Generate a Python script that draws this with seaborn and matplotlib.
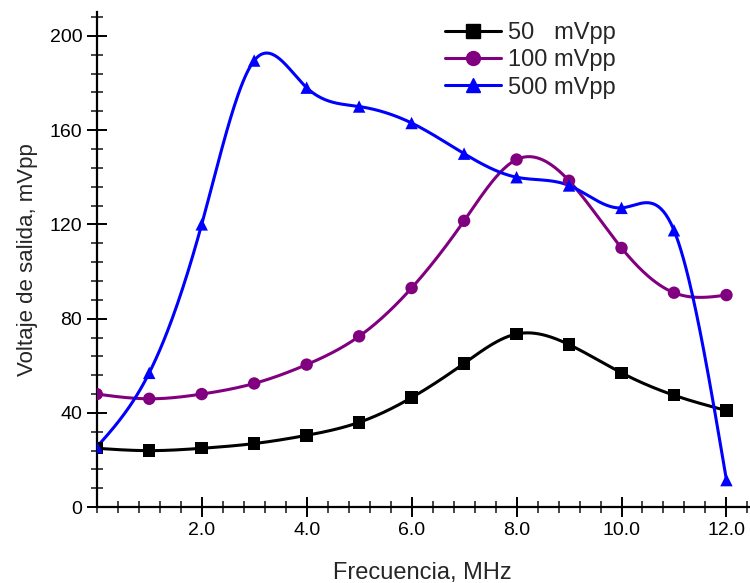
import numpy as np
import pandas as pd
import matplotlib
matplotlib.use("Agg")
import matplotlib.pyplot as plt
import seaborn as sns
from matplotlib.lines import Line2D
from matplotlib.ticker import MultipleLocator, FixedLocator

freq = [0, 1, 2, 3, 4, 5, 6, 7, 8, 9, 10, 11, 12]
v50 = [25, 24, 25, 27, 30.5, 36, 46.5, 61, 73.5, 69, 57, 47.5, 41]
v100 = [48, 46, 48, 52.5, 60.5, 72.5, 93, 121.5, 147.5, 138.5, 110, 91, 90]
v500 = [25.5, 57, 120, 189.5, 178, 170, 163, 150, 140, 136.5, 127, 117.5, 11.5]
series = ["50   mVpp", "100 mVpp", "500 mVpp"]
colors = ["#000000", "#800080", "#0000ff"]
markers = ["s", "o", "^"]


def natural_spline(x, y, n=500):
    # natural cubic spline, like Origin's smooth connect
    x = np.asarray(x, float)
    y = np.asarray(y, float)
    m = len(x)
    h = np.diff(x)
    A = np.zeros((m, m))
    b = np.zeros(m)
    A[0, 0] = A[-1, -1] = 1
    for i in range(1, m - 1):
        A[i, i - 1] = h[i - 1]
        A[i, i] = 2 * (h[i - 1] + h[i])
        A[i, i + 1] = h[i]
        b[i] = 6 * ((y[i + 1] - y[i]) / h[i] - (y[i] - y[i - 1]) / h[i - 1])
    M = np.linalg.solve(A, b)
    xs = np.linspace(x[0], x[-1], n)
    k = np.clip(np.searchsorted(x, xs) - 1, 0, m - 2)
    hk = h[k]
    a = (x[k + 1] - xs) / hk
    c = (xs - x[k]) / hk
    ys = (a * y[k] + c * y[k + 1]
          + ((a ** 3 - a) * M[k] + (c ** 3 - c) * M[k + 1]) * hk ** 2 / 6)
    return xs, ys


pts = pd.DataFrame({
    "freq": freq * 3,
    "v": v50 + v100 + v500,
    "serie": [s for s in series for _ in freq],
})
curves = []
for s, vals in zip(series, [v50, v100, v500]):
    xs, ys = natural_spline(freq, vals)
    curves.append(pd.DataFrame({"freq": xs, "v": ys, "serie": s}))
curves = pd.concat(curves, ignore_index=True)

sns.set_style("ticks")
plt.rcParams["font.family"] = ["Liberation Sans", "DejaVu Sans"]

fig = plt.figure(figsize=(7.5, 5.83), dpi=100)
ax = fig.add_axes([0.129, 0.130, 0.869, 0.849])

pal = dict(zip(series, colors))
sns.lineplot(data=curves, x="freq", y="v", hue="serie", palette=pal,
             sort=False, lw=2.2, legend=False, ax=ax)
sns.scatterplot(data=pts, x="freq", y="v", hue="serie", style="serie",
                palette=pal, markers=dict(zip(series, markers)), s=80,
                edgecolor="none", legend=False, ax=ax, zorder=3)

ax.set_xlim(0, 12.42)
ax.set_ylim(0, 210)
ax.xaxis.set_major_locator(FixedLocator([2, 4, 6, 8, 10, 12]))
ax.xaxis.set_minor_locator(MultipleLocator(0.4))
ax.set_xticklabels(["2.0", "4.0", "6.0", "8.0", "10.0", "12.0"])
ax.yaxis.set_major_locator(MultipleLocator(40))
ax.yaxis.set_minor_locator(MultipleLocator(8))
ax.tick_params(which="major", direction="inout", length=14, width=1.4,
               labelsize=14, colors="black")
ax.tick_params(which="minor", direction="inout", length=8, width=1.2)
ax.tick_params(axis="x", pad=4)
for sp in ["top", "right"]:
    ax.spines[sp].set_visible(False)
for sp in ["left", "bottom"]:
    ax.spines[sp].set_linewidth(1.6)
    ax.spines[sp].set_color("black")

ax.set_xlabel("Frecuencia, MHz", fontsize=17, labelpad=16)
ax.set_ylabel("Voltaje de salida, mVpp", fontsize=16, labelpad=8)

handles = [Line2D([], [], color=c, marker=m, lw=2.2, markersize=10)
           for c, m in zip(colors, markers)]
fig.legend(handles, series, loc="upper left",
           bbox_to_anchor=(0.593, 0.962), borderpad=0, borderaxespad=0,
           frameon=False, fontsize=17, handlelength=2.4, handletextpad=0.3,
           labelspacing=0.22)

fig.savefig("out.png", dpi=100)
